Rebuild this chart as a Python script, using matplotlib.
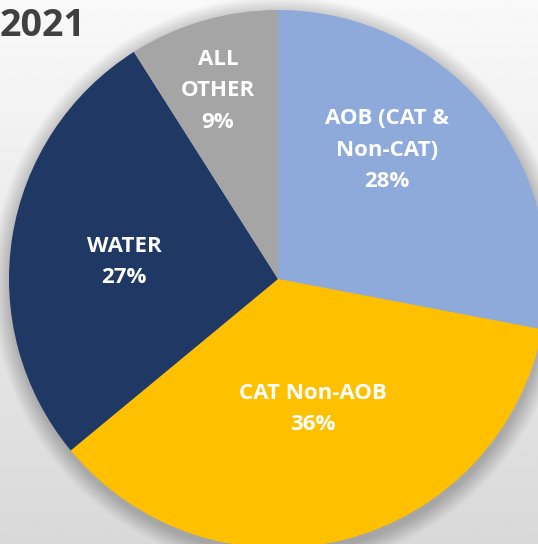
import numpy as np
import matplotlib.pyplot as plt
from matplotlib.patches import Circle

# Slice data, clockwise from 12 o'clock
labels = ['AOB (CAT &\nNon-CAT)', 'CAT Non-AOB', 'WATER', 'ALL\nOTHER']
shares = [28, 36, 27, 9]
colors = ['#8eaadb', '#ffc000', '#203864', '#a5a5a5']
title = '2021'

W, H = 538, 544
fig = plt.figure(figsize=(W / 100, H / 100), dpi=100)
ax = fig.add_axes([0, 0, 1, 1])

# light vertical gradient behind the chart
grad = np.linspace(0.85, 0.975, 256).reshape(-1, 1)
ax.imshow(grad, extent=[0, W, 0, H], origin='lower', cmap='gray',
          vmin=0, vmax=1, aspect='auto', zorder=0)

cx, cy, r = 278, H - 279, 269

# soft shadow around the pie
for i in range(18):
    ax.add_patch(Circle((cx + 1, cy - 4), r + 18 - i, color='black',
                        alpha=0.012, lw=0, zorder=1))

wedges, texts = ax.pie(shares, colors=colors, startangle=90, counterclock=False,
                       center=(cx, cy), radius=r, frame=True,
                       wedgeprops=dict(linewidth=0))
for w in wedges:
    w.set_zorder(2)
ax.set_xlim(0, W)
ax.set_ylim(0, H)
ax.axis('off')

# label positions (pixel coords measured from top)
label_pos = [(387, 150), (313, 409), (124, 262), (218, 91)]
for lab, s, (x, y) in zip(labels, shares, label_pos):
    ax.text(x, H - y, f'{lab}\n{s}%', ha='center', va='center', color='white',
            fontsize=16, fontweight='bold', family='Open Sans', linespacing=1.65,
            zorder=3)

ax.text(0, H - 26, title, ha='left', va='center', color='#404040',
        fontsize=27, fontweight='bold', family='Open Sans', zorder=3)

fig.savefig('out.png', dpi=100)
